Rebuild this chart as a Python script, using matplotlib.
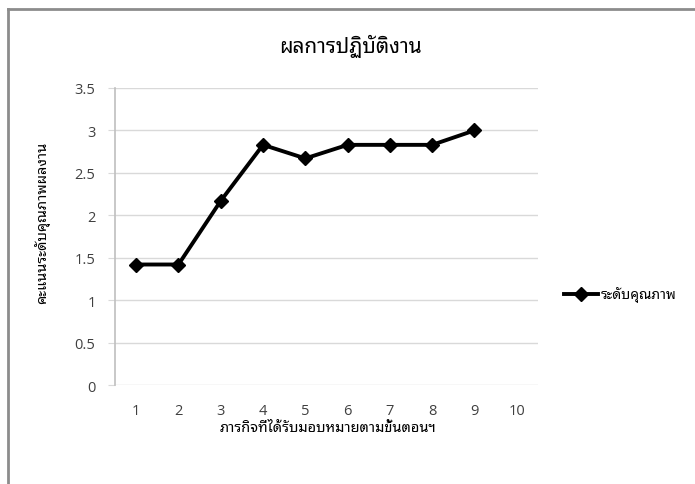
import matplotlib
matplotlib.use('Agg')
import matplotlib.pyplot as plt
from matplotlib.lines import Line2D

THAI = ['Noto Sans Thai Looped', 'Loma', 'DejaVu Sans']
NUM = ['Open Sans', 'DejaVu Sans']
plt.rcParams['font.family'] = THAI

tasks = [1, 2, 3, 4, 5, 6, 7, 8, 9, 10]
scores = [1.42, 1.42, 2.17, 2.83, 2.67, 2.83, 2.83, 2.83, 3.0]
yticks = [0, 0.5, 1, 1.5, 2, 2.5, 3, 3.5]
ytick_labels = ['0', '0.5', '1', '1.5', '2', '2.5', '3', '3.5']
title = 'ผลการปฏิบัติงาน'
xlabel = 'ภารกิจที่ได้รับมอบหมายตามขั้นตอนฯ'
ylabel = 'คะแนนระดับคุณภาพผลงาน'
series = 'ระดับคุณภาพ'

fig = plt.figure(figsize=(6.95, 4.85), dpi=100)
ax = fig.add_axes([0.1655, 0.2041, 0.6085, 0.6124])

ax.plot(tasks[:len(scores)], scores, color='black', lw=2.8, marker='D',
        ms=7.5, mfc='black', mec='black', zorder=3)

ax.set_xlim(0.5, 10.5)
ax.set_ylim(0, 3.5)
ax.set_xticks(tasks)
ax.set_xticklabels([str(t) for t in tasks], family=NUM)
ax.set_yticks(yticks)
ax.set_yticklabels(ytick_labels, family=NUM)
ax.yaxis.grid(True, color='#d9d9d9', lw=1)
ax.set_axisbelow(True)
for s in ['top', 'right', 'bottom']:
    ax.spines[s].set_visible(False)
ax.spines['left'].set_color('#bfbfbf')
ax.spines['left'].set_linewidth(1.2)
ax.tick_params(axis='y', length=5, color='#d9d9d9', labelsize=10.5,
               labelcolor='#404040', pad=9)
ax.tick_params(axis='x', length=0, labelsize=10.5, labelcolor='#404040', pad=13)

fig.text(0.504, 0.905, title, ha='center', va='center', fontsize=15)
fig.text(0.472, 0.117, xlabel, ha='center', va='center', fontsize=10.5,
         fontweight='bold')
fig.text(0.060, 0.54, ylabel, ha='center', va='center', fontsize=10.5,
         fontweight='bold', rotation=90)

# legend
leg = Line2D([0.811, 0.836, 0.861], [0.392, 0.392, 0.392],
             transform=fig.transFigure, color='black', lw=2.8, marker='D',
             ms=7.5, markevery=[1])
fig.add_artist(leg)
fig.text(0.864, 0.392, series, ha='left', va='center', fontsize=10)

# กรอบ
fig.add_artist(Line2D([0.0115, 0.0115], [0, 0.979], transform=fig.transFigure,
                      color='#8c8c8c', lw=2))
fig.add_artist(Line2D([0.0115, 1], [0.979, 0.979], transform=fig.transFigure,
                      color='#8c8c8c', lw=2))

fig.savefig('out.png', dpi=100, facecolor='white')
